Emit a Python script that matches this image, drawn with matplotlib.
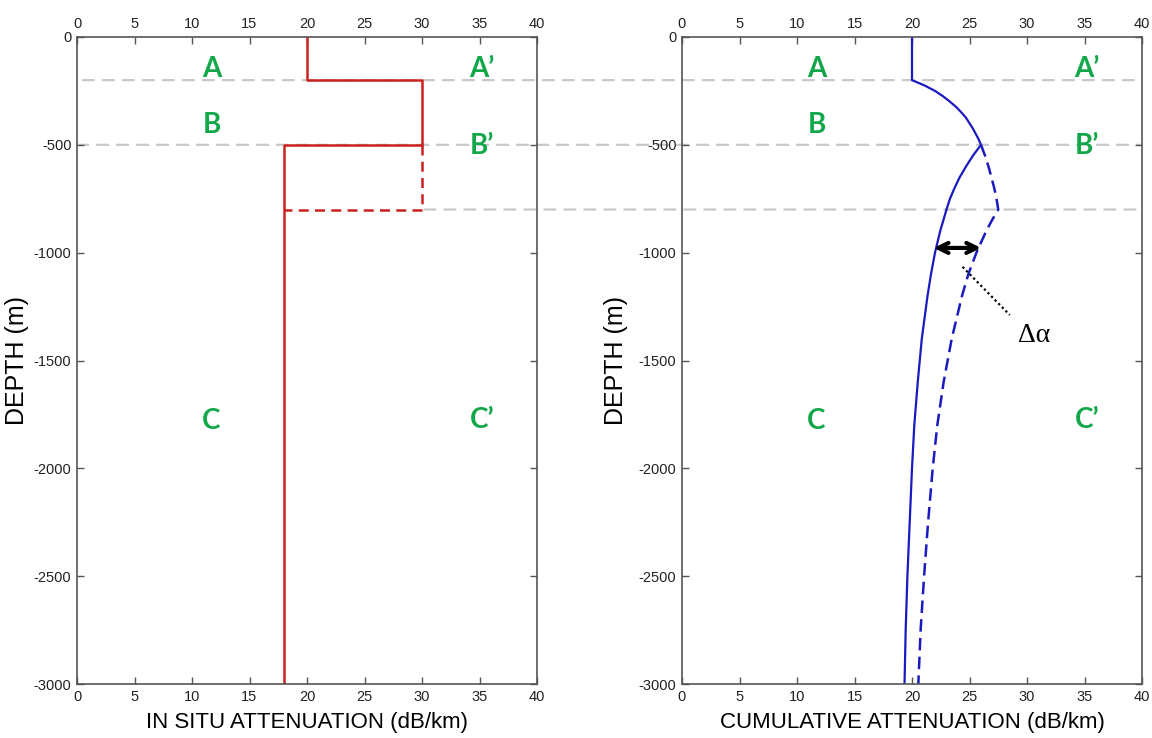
import numpy as np
import matplotlib
matplotlib.use("Agg")
import matplotlib.pyplot as plt
from matplotlib.patches import ConnectionPatch

# in situ attenuation profile (dB/km) vs depth (m)
insitu_x = [20, 20, 30, 30, 18, 18]
insitu_y = [0, -200, -200, -500, -500, -3000]
# thicker high-attenuation layer (dashed)
insitu_alt_x = [30, 30, 18]
insitu_alt_y = [-500, -800, -800]

# cumulative attenuation
cum_depth = [0, -200, -225, -250, -275, -300, -325, -350, -375, -400, -425,
             -450, -475, -500, -550, -600, -650, -700, -750, -800, -900,
             -1000, -1100, -1200, -1400, -1600, -1800, -2000, -2250, -2500,
             -2750, -3000]
cum_solid = [20.0, 20.0, 21.1, 22.0, 22.7, 23.3, 23.85, 24.3, 24.7, 25.0, 25.3,
             25.55, 25.8, 26.0, 25.3, 24.7, 24.15, 23.7, 23.3, 23.0, 22.45,
             22.0, 21.65, 21.35, 20.85, 20.5, 20.2, 20.0, 19.8, 19.6,
             19.45, 19.35]
cum_alt_depth = [-500, -550, -600, -650, -700, -750, -800, -850, -900, -1000,
                 -1100, -1200, -1400, -1600, -1800, -2000, -2250, -2500,
                 -2750, -3000]
cum_dashed = [26.0, 26.35, 26.65, 26.9, 27.15, 27.35, 27.5, 26.95, 26.45, 25.6,
              24.9, 24.35, 23.45, 22.75, 22.2, 21.8, 21.4, 21.05,
              20.75, 20.55]

boundaries = [-200, -500, -800]
xticks = [0, 5, 10, 15, 20, 25, 30, 35, 40]
yticks = [0, -500, -1000, -1500, -2000, -2500, -3000]

left_letters = [("A", 11.7, -150), ("B", 11.7, -410), ("C", 11.7, -1780),
                ("A\u2019", 35.2, -150), ("B\u2019", 35.2, -505), ("C\u2019", 35.2, -1775)]
right_letters = [("A", 11.7, -150), ("B", 11.7, -410), ("C", 11.7, -1780),
                 ("A\u2019", 35.2, -150), ("B\u2019", 35.2, -505), ("C\u2019", 35.2, -1775)]

sans = ["Liberation Sans", "DejaVu Sans"]
plt.rcParams["axes.unicode_minus"] = False

RED = "#cc2020"
BLUE = "#1a1ac0"
GREEN = "#12a84a"
SPINE = "#555555"

fig = plt.figure(figsize=(11.52, 7.38), dpi=100)
ax1 = fig.add_axes([77 / 1152, 54 / 738, 460 / 1152, 647 / 738])
ax2 = fig.add_axes([682 / 1152, 54 / 738, 460 / 1152, 647 / 738])


def style_axes(ax, xlabel, ylab_x):
    ax.set_facecolor("none")
    ax.set_xlim(0, 40)
    ax.set_ylim(-3000, 0)
    ax.set_xticks(xticks)
    ax.set_yticks(yticks)
    ax.set_xticklabels([str(v) for v in xticks], family=sans, fontsize=10.5)
    ax.set_yticklabels([str(v) for v in yticks], family=sans, fontsize=10.5)
    ax.tick_params(direction="in", length=5, width=1, color=SPINE,
                   top=True, right=True, labeltop=True, labelright=False,
                   labelcolor="#222222", pad=4)
    for s in ax.spines.values():
        s.set_color(SPINE)
        s.set_linewidth(1.2)
    ax.set_xlabel(xlabel, family=sans, fontsize=16, labelpad=6)
    ax.set_ylabel("DEPTH (m)", family=sans, fontsize=18)
    ax.yaxis.set_label_coords(ylab_x, 0.5)


style_axes(ax1, "IN SITU ATTENUATION (dB/km)", -0.105)
style_axes(ax2, "CUMULATIVE ATTENUATION (dB/km)", -0.118)

ax1.plot(insitu_x, insitu_y, color=RED, lw=1.8)
ax1.plot(insitu_alt_x, insitu_alt_y, color=RED, lw=1.8, dashes=(4, 2.5))

ax2.plot(cum_solid, cum_depth, color=BLUE, lw=1.6)
ax2.plot(cum_dashed, cum_alt_depth, color=BLUE, lw=1.8, dashes=(5, 2.5))

# gray layer boundaries running across both panels
starts = {-200: 0.5, -500: 0.0, -800: 30.2}
for d in boundaries:
    con = ConnectionPatch(xyA=(starts[d], d), coordsA="data", axesA=ax1,
                          xyB=(39.8, d), coordsB="data", axesB=ax2,
                          color="#c8c8c8", lw=1.6, linestyle=(0, (5, 4)),
                          zorder=-1)
    fig.add_artist(con)

for ax, letters in ((ax1, left_letters), (ax2, right_letters)):
    for txt, x, y in letters:
        ax.text(x, y, txt, color=GREEN, fontsize=20, fontweight="bold",
                family=["Lato", "Open Sans", "DejaVu Sans"],
                ha="center", va="center")

# delta alpha annotation
ax2.annotate("", xy=(26.0, -978), xytext=(21.9, -978),
             arrowprops=dict(arrowstyle="<->", color="black", lw=3,
                             mutation_scale=18, shrinkA=0, shrinkB=0))
ax2.plot([24.4, 28.5], [-1066, -1289], color="black", lw=1.6, ls=(0, (1, 1.3)))
ax2.text(30.6, -1385, "\u0394\u03b1", family=["Liberation Serif", "DejaVu Serif"],
         fontsize=20, ha="center", va="center")

fig.savefig("out.png", dpi=100, facecolor="white")
